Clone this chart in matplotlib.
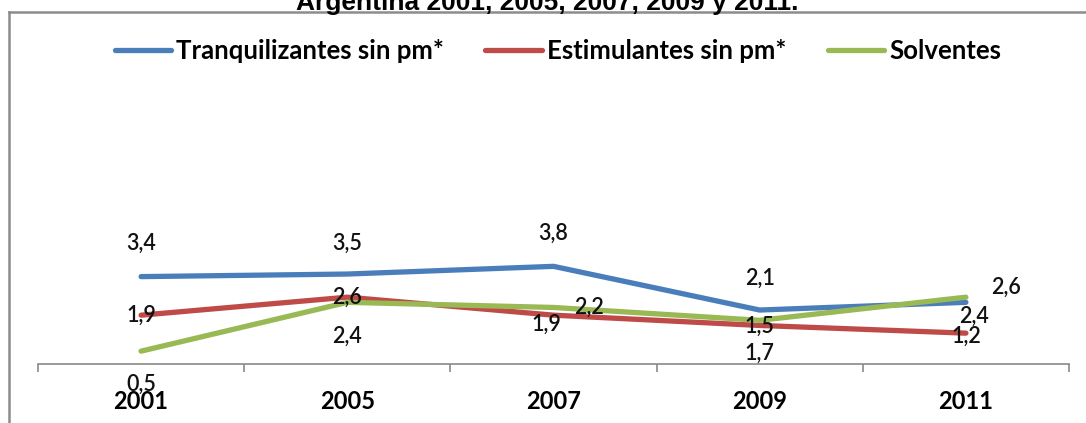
import matplotlib
matplotlib.use("Agg")
import matplotlib.pyplot as plt
from matplotlib.lines import Line2D

# ---- data ----
years = ["2001", "2005", "2007", "2009", "2011"]
tranquilizantes = [3.4, 3.5, 3.8, 2.1, 2.4]
estimulantes = [1.9, 2.6, 1.9, 1.5, 1.2]
solventes = [0.5, 2.4, 2.2, 1.7, 2.6]
series_names = ["Tranquilizantes sin pm*", "Estimulantes sin pm*", "Solventes"]
title = "Argentina 2001, 2005, 2007, 2009 y 2011."

colors = ["#4A7EBB", "#BE4B48", "#98B954"]
# label offsets (pixels) for each series / point, as placed in the original
offsets = [
    [(0, 33), (0, 31), (0, 33), (0, 32), (8, -14)],
    [(0, 0), (0, 0), (-7, -9), (0, -1), (0, -3)],
    [(0, -33), (0, -34), (36, 0), (0, -33), (40, 10)],
]

W, H = 1086, 423
fig = plt.figure(figsize=(W / 100, H / 100), dpi=100)
fig.patch.set_facecolor("white")

px_per_unit = 25.7
axis_y = 364
ymax = 12
ax = fig.add_axes([38 / W, (H - axis_y) / H, 1031 / W, ymax * px_per_unit / H])
ax.set_facecolor("none")

x = list(range(len(years)))
all_series = [tranquilizantes, estimulantes, solventes]
handles = []
for vals, col, name in zip(all_series, colors, series_names):
    (ln,) = ax.plot(x, vals, color=col, lw=3.8, solid_capstyle="round",
                    solid_joinstyle="round", label=name)
    handles.append(ln)

for vals, offs in zip(all_series, offsets):
    for xi, v, (dx, dy) in zip(x, vals, offs):
        ax.annotate(f"{v:.1f}".replace(".", ","), (xi, v),
                    xytext=(dx * 0.72, dy * 0.72), textcoords="offset points",
                    ha="center", va="center", fontsize=15.5, fontweight="semibold",
                    family=["Lato", "DejaVu Sans"], color="#111111")

ax.set_xlim(-0.5, len(years) - 0.5)
ax.set_ylim(0, ymax)
for s in ["top", "right", "left"]:
    ax.spines[s].set_visible(False)
ax.spines["bottom"].set_color("#8A8A8A")
ax.spines["bottom"].set_linewidth(1.2)
ax.set_yticks([])
ax.set_xticks(x)
ax.set_xticklabels(years, fontsize=17, fontweight="bold",
                   family=["Lato", "DejaVu Sans"])
ax.tick_params(axis="x", which="major", length=0, pad=19)
ax.set_xticks([i - 0.5 for i in range(len(years) + 1)], minor=True)
ax.tick_params(axis="x", which="minor", length=6, width=1.2, color="#8A8A8A")

leg = fig.legend(handles=handles, loc="center", ncol=3,
                 bbox_to_anchor=(558 / W, 1 - 51 / H), frameon=False,
                 prop={"family": ["Lato", "DejaVu Sans"], "weight": "bold", "size": 18.5},
                 handlelength=2.2, handletextpad=0.2, columnspacing=1.6)
for lh in leg.legend_handles:
    lh.set_linewidth(3.8)

# outer chart border (top and left visible)
fig.add_artist(Line2D([9 / W, 1.0], [1 - 12 / H, 1 - 12 / H], color="#8C8C8C", lw=1.8,
                      transform=fig.transFigure))
fig.add_artist(Line2D([9 / W, 9 / W], [0, 1 - 12 / H], color="#8C8C8C", lw=1.8,
                      transform=fig.transFigure))

fig.text(547 / W, 1 - 10 / H, title, ha="center", va="baseline", fontsize=19,
         fontweight="bold", family=["Liberation Sans", "DejaVu Sans"])

fig.savefig("out.png", dpi=100)
